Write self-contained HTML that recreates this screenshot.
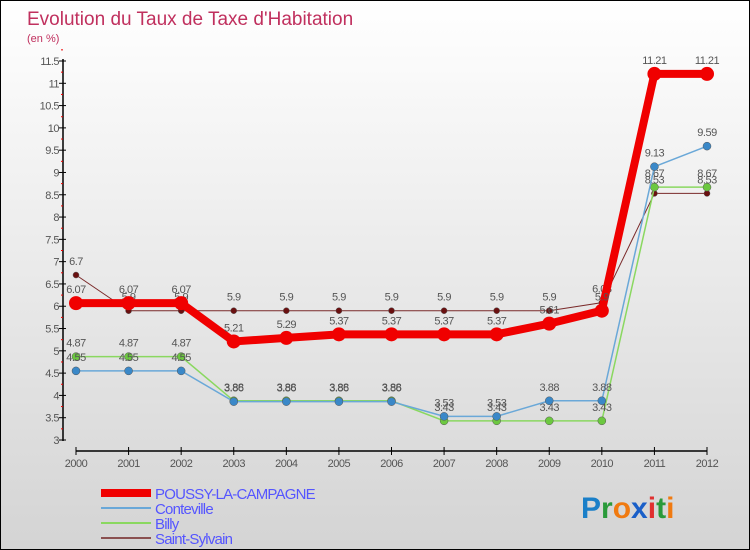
<!DOCTYPE html>
<html><head><meta charset="utf-8"><style>
body{margin:0;}
#c{width:748px;height:548px;border:1px solid #000;background:linear-gradient(#fff,#d4d4d4);position:relative;font-family:"Liberation Sans",sans-serif;overflow:hidden}
</style></head><body>
<div id="c">
<svg id="s" width="748" height="548" xmlns="http://www.w3.org/2000/svg">
<text x="26" y="24" font-size="19" fill="#c0305e">Evolution du Taux de Taxe d'Habitation</text>
<text x="26" y="41" font-size="11" fill="#c0305e">(en %)</text>
<g id="axes"></g><g id="series"></g><g id="legend"></g>
<text x="580" y="517" font-size="30" font-weight="bold" font-family="Liberation Sans"><tspan fill="#1a7fc8">P</tspan><tspan fill="#2a9a3a">r</tspan><tspan fill="#f07a10">o</tspan><tspan fill="#1a5fc8">x</tspan><tspan fill="#e03030">i</tspan><tspan fill="#2a9a3a">t</tspan><tspan fill="#f07a10">i</tspan></text>
</svg></div>
<script>
const years=[2000,2001,2002,2003,2004,2005,2006,2007,2008,2009,2010,2011,2012];
const yTicks=[3,3.5,4,4.5,5,5.5,6,6.5,7,7.5,8,8.5,9,9.5,10,10.5,11,11.5];
const names=["POUSSY-LA-CAMPAGNE","Conteville","Billy","Saint-Sylvain"];
const poussy=[6.07,6.07,6.07,5.21,5.29,5.37,5.37,5.37,5.37,5.61,5.9,11.21,11.21];
const conteville=[4.55,4.55,4.55,3.86,3.86,3.86,3.86,3.53,3.53,3.88,3.88,9.13,9.59];
const billy=[4.87,4.87,4.87,3.88,3.88,3.88,3.88,3.43,3.43,3.43,3.43,8.67,8.67];
const sylvain=[6.7,5.9,5.9,5.9,5.9,5.9,5.9,5.9,5.9,5.9,6.08,8.53,8.53];
const NS="http://www.w3.org/2000/svg";
const X=i=>75+i*(631/12);
const Y=v=>439-(v-3)*(379/8.5);
function mk(t,a,p){const e=document.createElementNS(NS,t);for(const k in a)e.setAttribute(k,a[k]);p.appendChild(e);return e;}
const ax=document.getElementById('axes');
let l=mk('line',{x1:62,y1:58,x2:62,y2:440,stroke:'#000','stroke-width':1.5},ax);


yTicks.forEach(v=>{
  let t=mk('line',{x1:58,x2:65,y1:Y(v),y2:Y(v),stroke:'#000'},ax);
  
  
  let r=mk('line',{x1:60,x2:62,y1:Y(v+0.25),y2:Y(v+0.25),stroke:'#e00'},ax);
  
  
  let tx=mk('text',{x:58,y:Y(v)+4,'font-size':11,fill:'#555','text-anchor':'end','letter-spacing':'-0.5'},ax);
  tx.textContent=String(v);
  
  
});
l=mk('line',{x1:75,y1:450,x2:706,y2:450,stroke:'#000','stroke-width':1.5},ax);


years.forEach((y,i)=>{
  let t=mk('line',{x1:X(i),x2:X(i),y1:446,y2:454,stroke:'#000'},ax);
  
  
  let tx=mk('text',{x:X(i),y:466,'font-size':11,fill:'#555','text-anchor':'middle','letter-spacing':'-0.5'},ax);
  tx.textContent=String(y);
  
  
});
const sg=document.getElementById('series');
const series=[
 {d:sylvain,c:'#7a2a2a',w:1,r:3,dot:'#6a1010',n:'saint-sylvain'},
 {d:billy,c:'#8ad860',w:1.5,r:4,dot:'#6cc840',n:'billy'},
 {d:conteville,c:'#6aa8d8',w:1.5,r:4,dot:'#3a88c8',n:'conteville'},
 {d:poussy,c:'#f00000',w:8,r:7,dot:'#f00000',n:'poussy'}];
series.forEach(s=>{
  const g=mk('g',{},sg);
  
  
  const p=mk('polyline',{points:s.d.map((v,i)=>X(i)+','+Y(v)).join(' '),fill:'none',stroke:s.c,'stroke-width':s.w},g);
  
  
  s.d.forEach((v,i)=>{
    const c=mk('circle',{cx:X(i),cy:Y(v),r:s.r,fill:s.dot,stroke:'#555','stroke-width':s.n=='poussy'?0:0.5},g);
    
    
    const t=mk('text',{x:X(i),y:Y(v)-10,'font-size':11,fill:'#555','text-anchor':'middle','letter-spacing':'-0.5'},g);
    t.textContent=String(v);
    
    
  });
});
const lg=document.getElementById('legend');
const lc=['#f00000','#6aa8d8','#8ad860','#8a5050'],lw=[8,2,2,2];
names.forEach((n,i)=>{
  const y=492+i*15;
  const ln=mk('line',{x1:100,x2:150,y1:y,y2:y,stroke:lc[i],'stroke-width':lw[i]},lg);
  
  
  const t=mk('text',{x:154,y:y+6,'font-size':15,fill:'#5555ff','letter-spacing':'-0.8'},lg);
  t.textContent=n;
  
  
});
</script></body></html>
